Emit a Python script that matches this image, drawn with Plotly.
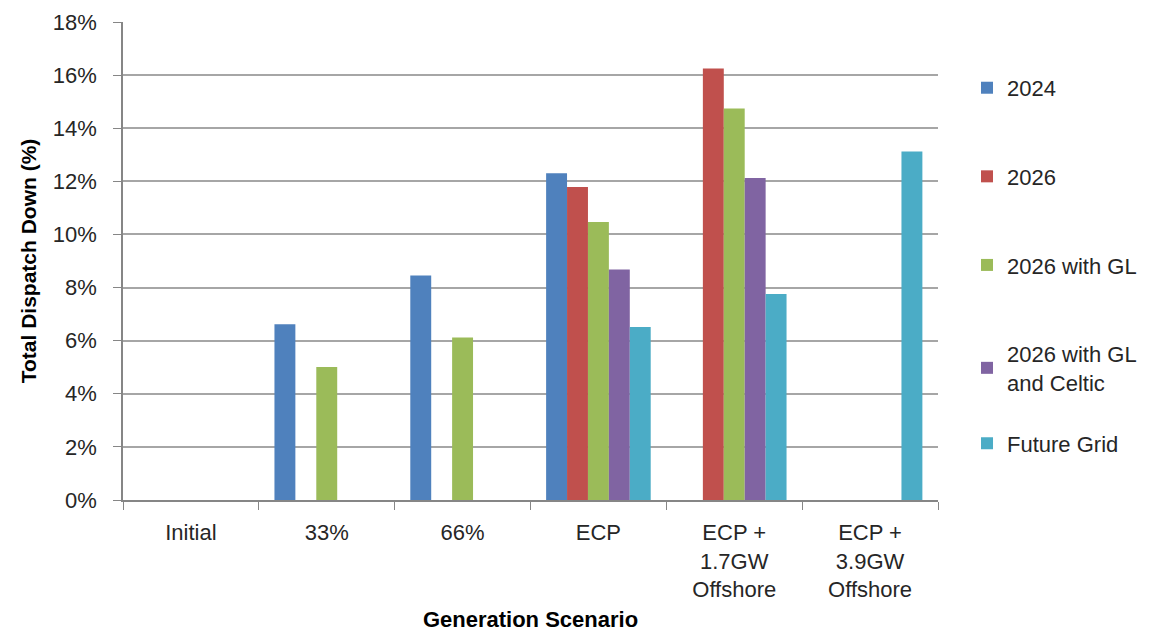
import plotly.graph_objects as go

categories = ["Initial", "33%", "66%", "ECP", "ECP +<br>1.7GW<br>Offshore", "ECP +<br>3.9GW<br>Offshore"]
series_names = ["2024", "2026", "2026 with GL", "2026 with GL<br>and Celtic", "Future Grid"]
v_2024 = [None, 6.62, 8.45, 12.30, None, None]
v_2026 = [None, None, None, 11.79, 16.25, None]
v_2026_gl = [None, 5.01, 6.12, 10.47, 14.74, None]
v_2026_gl_celtic = [None, None, None, 8.68, 12.13, None]
v_future_grid = [None, None, None, 6.51, 7.76, 13.12]
colors = ["#4F81BD", "#C0504D", "#9BBB59", "#8064A2", "#4BACC6"]
y_ticks = [0, 2, 4, 6, 8, 10, 12, 14, 16, 18]

FONT = "Liberation Sans, Arial, sans-serif"
all_series = [v_2024, v_2026, v_2026_gl, v_2026_gl_celtic, v_future_grid]
legend_ids = ["legend", "legend", "legend", "legend", "legend2"]

fig = go.Figure()
for i, (name, vals, col) in enumerate(zip(series_names, all_series, colors)):
    fig.add_trace(go.Bar(
        x=categories, y=vals, name=name, legendgroup=f"g{i}", legend=legend_ids[i],
        marker=dict(color=col, line=dict(width=0)),
    ))

legend_style = dict(
    xanchor="left", yanchor="top",
    font=dict(family=FONT, size=22, color="#262626"),
    itemwidth=30, bgcolor="rgba(0,0,0,0)",
)

fig.update_layout(
    width=1142, height=629,
    margin=dict(l=115, r=212, t=14, b=137, autoexpand=False),
    paper_bgcolor="white", plot_bgcolor="white",
    barmode="group", bargap=0.23, bargroupgap=0,
    font=dict(family=FONT, size=22, color="#262626"),
    showlegend=True,
    legend=dict(x=1.0356, y=0.906, tracegroupgap=57, **legend_style),
    legend2=dict(x=1.0356, y=0.162, **legend_style),
    xaxis=dict(
        type="category", tickson="boundaries", ticks="outside", ticklen=8,
        tickcolor="#868686", showline=True, linecolor="#868686", linewidth=1.5,
        tickfont=dict(family=FONT, size=22, color="#262626"),
        ticklabelstandoff=12, automargin=False,
        title=dict(text="<b>Generation Scenario</b>", font=dict(family=FONT, size=22, color="#000000"), standoff=10),
    ),
    yaxis=dict(
        range=[0, 18], tickvals=y_ticks, ticktext=[f"{t}%" for t in y_ticks],
        ticks="outside", ticklen=8, tickcolor="#868686",
        showline=True, linecolor="#868686", linewidth=1.5,
        showgrid=True, gridcolor="#A6A6A6", gridwidth=1.5,
        zeroline=False, automargin=False,
        tickfont=dict(family=FONT, size=22, color="#262626"),
        ticklabelstandoff=12,
        title=dict(text="<b>Total Dispatch Down (%)</b>", font=dict(family=FONT, size=21, color="#000000"), standoff=10),
    ),
)

fig.write_html("out.html")
